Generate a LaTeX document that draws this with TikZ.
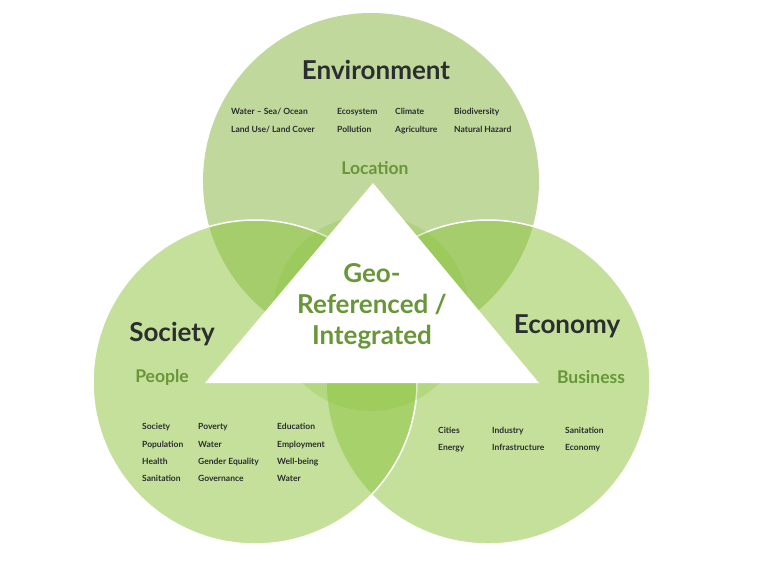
\documentclass[tikz,border=0pt]{standalone}
\usepackage{fontspec}
\setmainfont{Lato}
\usepackage{tikz}
\usetikzlibrary{positioning}
\definecolor{topgreen}{RGB}{192,216,155}
\definecolor{ringgreen}{RGB}{141,196,63}
\definecolor{labelgreen}{RGB}{104,150,56}
\definecolor{inkgray}{RGB}{43,45,48}
\tikzstyle{bigcircle} = [
  circle, inner sep=0pt, minimum size=324pt
]
\tikzstyle{ring} = [
  bigcircle, fill=ringgreen, fill opacity=0.52,
  draw=white, line width=1.5pt
]
\tikzstyle{heading} = [
  font=\fontsize{26}{30}\selectfont\bfseries, text=inkgray
]
\tikzstyle{sublabel} = [
  font=\fontsize{17.5}{20}\selectfont\bfseries, text=labelgreen
]
\tikzstyle{item} = [
  anchor=west, inner sep=0pt, text height=6.2pt, text depth=1.8pt,
  font=\fontsize{8.5}{9}\selectfont\bfseries, text=inkgray
]

\begin{document}
\begin{tikzpicture}[x=1pt, y=-1pt]

  \useasboundingbox (0,0) rectangle (767,560);

  % Circles
  \node[bigcircle, fill=topgreen, minimum size=336pt] (env) at (371,181) {};
  \node[ring] (eco) at (488,382) {};
  \node[ring] (soc) at (255,382) {};
  \node[circle, inner sep=0pt, minimum size=196pt,
        fill=ringgreen, fill opacity=0.3] (core) at (371,313) {};

  % Triangle
  \fill[white] (205,383) -- (373,183) -- (539,383) -- cycle;

  % Headings
  \node[heading] (envtitle) at (376,70) {Environment};
  \node[heading] (soctitle) at (172,334) {Society};
  \node[heading] (ecotitle) at (567,326) {Economy};

  \node[sublabel] (location) at (375,168) {Location};
  \node[sublabel] (people) at (162,377) {People};
  \node[sublabel] (business) at (591,377) {Business};

  \node[align=center, text=labelgreen,
        font=\fontsize{26}{31}\selectfont\bfseries] (georef) at (372,306)
        {Geo-\\Referenced /\\Integrated};

  % Environment items
  \foreach \txt/\x/\y in {{Water -- Sea/ Ocean}/231/112, Ecosystem/337/112,
      Climate/395/112, Biodiversity/454/112,
      {Land Use/ Land Cover}/231/130, Pollution/337/130,
      Agriculture/395/130, Natural Hazard/454/130}
    \node[item] at (\x,\y) {\txt};

  % Society items
  \foreach \txt/\x/\y in {Society/142/427, Poverty/198/427, Education/277/427,
      Population/142/445, Water/198/445, Employment/277/445,
      Health/142/462, Gender Equality/198/462, Well-being/277/462,
      Sanitation/142/479, Governance/198/479, Water/277/479}
    \node[item] at (\x,\y) {\txt};

  % Economy items
  \foreach \txt/\x/\y in {Cities/438/431, Industry/492/431, Sanitation/565/431,
      Energy/438/448, Infrastructure/492/448, Economy/565/448}
    \node[item] at (\x,\y) {\txt};

\end{tikzpicture}
\end{document}
